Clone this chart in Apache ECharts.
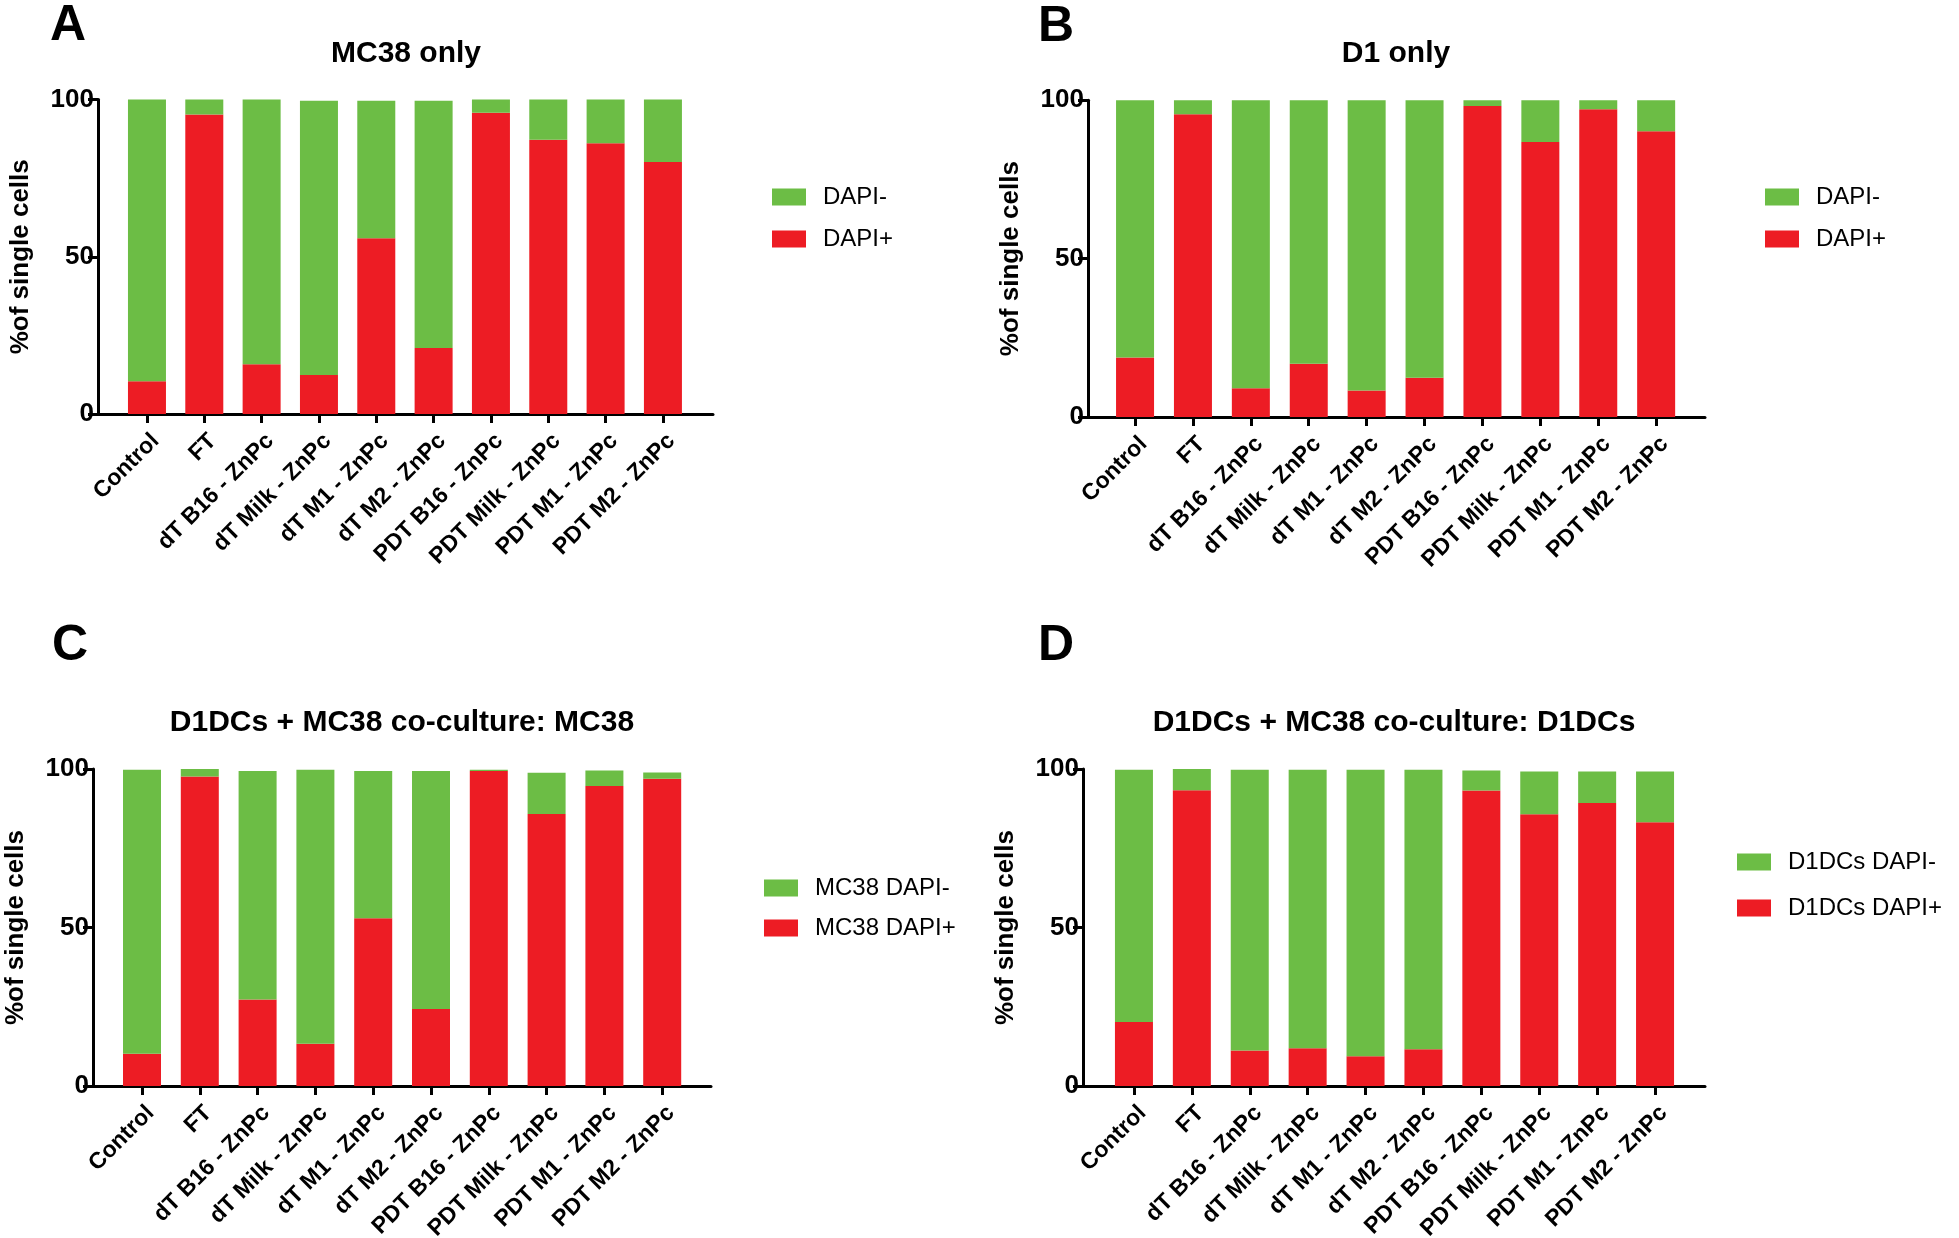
<!DOCTYPE html>
<html>
<head>
<meta charset="utf-8">
<script src="https://cdn.jsdelivr.net/npm/echarts@6/dist/echarts.min.js"></script>
<style>
html,body{margin:0;padding:0;background:#fff;}
#chart{width:1959px;height:1238px;}
</style>
</head>
<body>
<div id="chart"></div>
<script>
// ---- data ----
const categories = ['Control','FT','dT B16 - ZnPc','dT Milk - ZnPc','dT M1 - ZnPc','dT M2 - ZnPc','PDT B16 - ZnPc','PDT Milk - ZnPc','PDT M1 - ZnPc','PDT M2 - ZnPc'];
const yTicks = [0, 50, 100];

const titles = ['MC38 only', 'D1 only', 'D1DCs + MC38 co-culture: MC38', 'D1DCs + MC38 co-culture: D1DCs'];
const panelLetters = ['A', 'B', 'C', 'D'];
const negNames = ['DAPI-', 'DAPI-', 'MC38 DAPI-', 'D1DCs DAPI-'];
const posNames = ['DAPI+', 'DAPI+', 'MC38 DAPI+', 'D1DCs DAPI+'];

// DAPI+ (red, bottom segment) and DAPI- (green, top segment), % of single cells
const aPos = [10.4, 95.2, 15.8, 12.4, 55.9, 21.0, 95.8, 87.2, 86.1, 80.1];
const aNeg = [89.6, 4.8, 84.2, 87.2, 43.7, 78.6, 4.2, 12.8, 13.9, 19.9];
const bPos = [18.8, 95.6, 9.1, 16.8, 8.4, 12.4, 98.2, 86.8, 97.2, 90.2];
const bNeg = [81.2, 4.4, 90.9, 83.2, 91.6, 87.6, 1.8, 13.2, 2.8, 9.8];
const cPos = [10.2, 97.6, 27.3, 13.3, 52.9, 24.3, 99.4, 85.8, 94.6, 96.9];
const cNeg = [89.6, 2.4, 72.1, 86.5, 46.5, 75.1, 0.4, 13.0, 4.9, 2.0];
const dPos = [20.2, 93.3, 11.2, 11.9, 9.4, 11.6, 93.2, 85.7, 89.3, 83.2];
const dNeg = [79.6, 7.0, 88.6, 87.9, 90.4, 88.2, 6.3, 13.5, 9.9, 16.0];

const posData = [aPos, bPos, cPos, dPos];
const negData = [aNeg, bNeg, cNeg, dNeg];

// ---- layout (px) ----
const FONT = "'Liberation Sans', Arial, Helvetica, sans-serif";
const GREEN = '#6cbd45';
const RED = '#ed1c24';
const layout = [
  {frameL: 98,   frameR: 713,  barL: 118.3, barW: 573.3, top: 99.5,  bottom: 414, titleX: 406,  titleY: 54,  letterX: 50,   letterY: 26,  legL: 772,  legT: 185, legGap: 18},
  {frameL: 1088, frameR: 1705, barL: 1106.1,barW: 579,   top: 100.3, bottom: 417, titleX: 1396, titleY: 54,  letterX: 1038, letterY: 27,  legL: 1765, legT: 185, legGap: 18},
  {frameL: 93,   frameR: 711,  barL: 113.1, barW: 578,   top: 769,   bottom: 1086,titleX: 402,  titleY: 723, letterX: 52,   letterY: 646, legL: 764,  legT: 876, legGap: 16},
  {frameL: 1083, frameR: 1705, barL: 1105,  barW: 579,   top: 769,   bottom: 1086,titleX: 1394, titleY: 723, letterX: 1038, letterY: 646, legL: 1737, legT: 850, legGap: 22}
];

const grid = [], xAxis = [], yAxis = [], series = [], legend = [], graphic = [];
layout.forEach((L, i) => {
  const h = L.bottom - L.top;
  // frame grid (axis lines + y ticks)
  grid.push({left: L.frameL, top: L.top, width: L.frameR - L.frameL, height: h, containLabel: false, outerBoundsMode: 'none'});
  // bar grid
  grid.push({left: L.barL, top: L.top, width: L.barW, height: h, containLabel: false, outerBoundsMode: 'none'});
  const gf = i * 2, gb = i * 2 + 1;
  xAxis.push({
    gridIndex: gf, type: 'value', min: 0, max: 1,
    axisLine: {show: true, lineStyle: {color: '#000', width: 3}},
    axisTick: {show: false}, axisLabel: {show: false}, splitLine: {show: false}
  });
  yAxis.push({
    gridIndex: gf, type: 'value', min: yTicks[0], max: yTicks[yTicks.length - 1], interval: 50,
    axisLine: {show: true, lineStyle: {color: '#000', width: 3}},
    axisTick: {show: true, length: 10, lineStyle: {color: '#000', width: 3}},
    axisLabel: {color: '#000', fontSize: 26, fontWeight: 'bold', fontFamily: FONT, margin: 4},
    splitLine: {show: false},
    name: '%of single cells', nameLocation: 'middle', nameGap: 64, nameRotate: 90,
    nameTextStyle: {color: '#000', fontSize: 26, fontWeight: 'bold', fontFamily: FONT}
  });
  xAxis.push({
    gridIndex: gb, type: 'category', data: categories,
    axisLine: {show: false},
    axisTick: {show: true, alignWithLabel: true, length: 9, lineStyle: {color: '#000', width: 3}},
    axisLabel: {interval: 0, rotate: 45, color: '#000', fontSize: 23, fontWeight: 'bold', fontFamily: FONT, margin: 32, padding: [0, -12, 0, 0]},
    splitLine: {show: false}
  });
  yAxis.push({gridIndex: gb, type: 'value', min: 0, max: 100, show: false});

  series.push({
    name: posNames[i], type: 'bar', xAxisIndex: gb, yAxisIndex: gb, stack: 's' + i,
    data: posData[i], barWidth: 38, itemStyle: {color: RED}, emphasis: {disabled: true}
  });
  series.push({
    name: negNames[i], type: 'bar', xAxisIndex: gb, yAxisIndex: gb, stack: 's' + i,
    data: negData[i], barWidth: 38, itemStyle: {color: GREEN}, emphasis: {disabled: true}
  });

  legend.push({
    data: [negNames[i], posNames[i]], orient: 'vertical', left: L.legL, top: L.legT,
    padding: 0, itemWidth: 34, itemHeight: 17, itemGap: L.legGap, icon: 'rect', selectedMode: false,
    textStyle: {color: '#000', fontSize: 24, fontFamily: FONT, padding: [0, 0, 0, 12]}
  });

  graphic.push({
    type: 'text', x: L.titleX, y: L.titleY,
    style: {text: titles[i], fill: '#000', font: 'bold 30px ' + FONT, textAlign: 'center', textVerticalAlign: 'middle'}
  });
  graphic.push({
    type: 'text', x: L.letterX, y: L.letterY,
    style: {text: panelLetters[i], fill: '#000', font: 'bold 50px ' + FONT, textAlign: 'left', textVerticalAlign: 'middle'}
  });
});

const chart = echarts.init(document.getElementById('chart'), null, {renderer: 'canvas'});
chart.setOption({
  animation: false,
  backgroundColor: '#fff',
  grid, xAxis, yAxis, series, legend, graphic
});
</script>
</body>
</html>
